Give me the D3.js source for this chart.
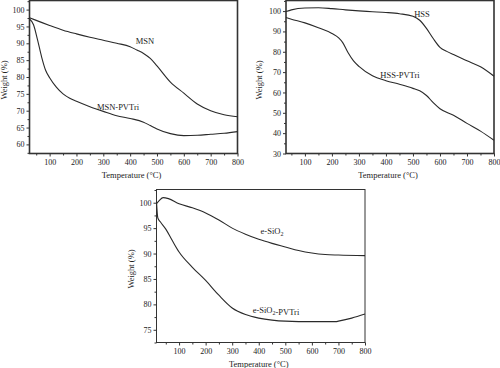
<!DOCTYPE html>
<html>
<head>
<meta charset="utf-8">
<script src="https://cdn.jsdelivr.net/npm/d3@7"></script>
<style>
  body { margin: 0; background: #fff; }
  svg { display: block; }
  text { font-family: "Liberation Serif", "DejaVu Serif", serif; fill: #222; }
  .axis path, .axis line { stroke: #333; }
</style>
</head>
<body>
<svg id="chart" width="500" height="368"></svg>
<script>
// temperatures (°C) and weights (%)
var msnT   = [25, 50, 100, 150, 200, 250, 300, 350, 400, 425, 450, 475, 500, 550, 600, 650, 700, 750, 800];
var msnW   = [97.6, 96.8, 95.3, 93.9, 92.8, 91.8, 90.9, 90.0, 89.0, 88.0, 87.0, 85.5, 83.3, 78.5, 75.2, 72.0, 70.0, 68.8, 68.2];
var msnPT  = [25, 40, 55, 70, 85, 100, 125, 150, 175, 200, 250, 300, 350, 400, 450, 475, 500, 550, 600, 650, 700, 750, 800];
var msnPW  = [97.2, 95.5, 91, 86, 82, 79.8, 77, 75, 73.7, 72.8, 71.2, 69.8, 68.5, 67.7, 66.6, 65.6, 64.6, 63.2, 62.6, 62.7, 63.0, 63.3, 63.8];

var hssT   = [30, 50, 100, 150, 200, 250, 300, 350, 400, 450, 500, 525, 550, 575, 600, 625, 650, 700, 750, 800];
var hssW   = [99.8, 100.6, 101.5, 101.6, 101.2, 100.6, 100.1, 99.7, 99.3, 98.7, 97.5, 95.5, 91.5, 86.5, 82.2, 80.2, 78.6, 75.6, 72.6, 68.0];
var hssPT  = [30, 50, 100, 150, 200, 225, 240, 260, 280, 300, 350, 400, 450, 500, 525, 550, 575, 600, 650, 700, 750, 800];
var hssPW  = [96.8, 96.0, 94.2, 91.8, 89.0, 86.8, 84.5, 79.5, 75.5, 72.8, 68.2, 65.8, 64.0, 62.0, 60.8, 58.5, 55.0, 52.0, 48.8, 44.8, 41.0, 36.5];

var sioT   = [15, 25, 40, 60, 100, 150, 200, 250, 300, 350, 400, 450, 500, 550, 600, 650, 700, 800];
var sioW   = [99.8, 100.4, 101.0, 100.8, 99.8, 99.0, 98.0, 96.6, 95.0, 93.8, 92.8, 92.0, 91.3, 90.6, 90.1, 89.8, 89.7, 89.6];
var sioPT  = [15, 20, 30, 50, 75, 100, 150, 200, 250, 300, 350, 400, 450, 500, 600, 690, 700, 750, 800];
var sioPW  = [100.2, 97.0, 96.2, 94.8, 92.5, 90.3, 87.3, 84.7, 81.8, 79.3, 78.0, 77.3, 76.9, 76.7, 76.6, 76.6, 76.7, 77.3, 78.1];

var xTicks = [100, 200, 300, 400, 500, 600, 700, 800];

function zip(t, w) { return t.map(function(d, i) { return [d, w[i]]; }); }

var svg = d3.select("#chart");

function panel(opt) {
  var g = svg.append("g");
  var x = d3.scaleLinear().domain(opt.xDom).range([opt.left, opt.right]);
  var y = d3.scaleLinear().domain(opt.yDom).range([opt.bottom, opt.top]);

  var minorX = d3.range(50, 801, 50).filter(function(v) { return v >= opt.xDom[0] && v % 100 !== 0; });
  var minorY = d3.range(opt.yMajor[0] - opt.yStep / 2, opt.yDom[1], opt.yStep)
    .filter(function(v) { return v >= opt.yDom[0] && v <= opt.yDom[1]; });

  // box
  g.append("rect")
    .attr("x", opt.left).attr("y", opt.top)
    .attr("width", opt.right - opt.left).attr("height", opt.bottom - opt.top)
    .attr("fill", "none").attr("stroke", "#333").attr("stroke-width", opt.top < 1 ? 1.6 : 1);

  g.append("g").attr("class", "axis")
    .attr("transform", "translate(0," + opt.bottom + ")")
    .call(d3.axisBottom(x).tickValues(xTicks).tickSize(3).tickPadding(3))
    .call(function(a) { a.select(".domain").remove(); });
  g.append("g").attr("class", "axis")
    .attr("transform", "translate(0," + opt.bottom + ")")
    .call(d3.axisBottom(x).tickValues(minorX).tickSize(2).tickFormat(""))
    .call(function(a) { a.select(".domain").remove(); });

  g.append("g").attr("class", "axis")
    .attr("transform", "translate(" + opt.left + ",0)")
    .call(d3.axisLeft(y).tickValues(opt.yMajor).tickSize(3).tickPadding(2))
    .call(function(a) { a.select(".domain").remove(); });
  g.append("g").attr("class", "axis")
    .attr("transform", "translate(" + opt.left + ",0)")
    .call(d3.axisLeft(y).tickValues(minorY).tickSize(2).tickFormat(""))
    .call(function(a) { a.select(".domain").remove(); });

  g.selectAll(".axis text").style("font-size", "8px").attr("fill", "#222");

  var line = d3.line()
    .x(function(d) { return x(d[0]); })
    .y(function(d) { return y(d[1]); })
    .curve(d3.curveMonotoneX);

  opt.series.forEach(function(s) {
    g.append("path").datum(s)
      .attr("d", line)
      .attr("fill", "none")
      .attr("stroke", "#2a2a2a")
      .attr("stroke-width", 1.1);
  });

  g.append("text")
    .attr("x", (opt.left + opt.right) / 2 - 2)
    .attr("y", opt.bottom + 24)
    .attr("text-anchor", "middle")
    .style("font-size", "8.5px")
    .text("Temperature (°C)");

  g.append("text")
    .attr("transform", "translate(" + (opt.left - opt.yLabOff) + "," + ((opt.top + opt.bottom) / 2 + 3) + ") rotate(-90)")
    .attr("text-anchor", "middle")
    .style("font-size", "8.5px")
    .text("Weight (%)");

  return { g: g, x: x, y: y };
}

var p1 = panel({
  left: 29.5, right: 237.5, top: 0.5, bottom: 153.5,
  xDom: [25, 800], yDom: [57.3, 102.7],
  yMajor: [60, 65, 70, 75, 80, 85, 90, 95, 100], yStep: 5,
  yLabOff: 23,
  series: [zip(msnT, msnW), zip(msnPT, msnPW)]
});
var p2 = panel({
  left: 286, right: 494, top: 0.5, bottom: 153.5,
  xDom: [30, 800], yDom: [30, 105.2],
  yMajor: [30, 40, 50, 60, 70, 80, 90, 100], yStep: 10,
  yLabOff: 24,
  series: [zip(hssT, hssW), zip(hssPT, hssPW)]
});
var p3 = panel({
  left: 156.5, right: 365, top: 189.5, bottom: 342.5,
  xDom: [15, 800], yDom: [72.5, 102.6],
  yMajor: [75, 80, 85, 90, 95, 100], yStep: 5,
  yLabOff: 23,
  series: [zip(sioT, sioW), zip(sioPT, sioPW)]
});

function note(g, x, y, parts) {
  var t = g.append("text").attr("x", x).attr("y", y)
    .attr("text-anchor", "middle").style("font-size", "8.5px");
  parts.forEach(function(p) {
    if (p.sub) {
      t.append("tspan").attr("dy", 2).style("font-size", "6px").text(p.s);
      t.append("tspan").attr("dy", -2).text("");
    } else {
      t.append("tspan").text(p.s);
    }
  });
}

note(p1.g, 145, 44, [{ s: "MSN" }]);
note(p1.g, 118, 110, [{ s: "MSN-PVTri" }]);
note(p2.g, 422, 17, [{ s: "HSS" }]);
note(p2.g, 400, 78, [{ s: "HSS-PVTri" }]);
note(p3.g, 272, 234, [{ s: "e-SiO" }, { s: "2", sub: true }]);
note(p3.g, 276, 313, [{ s: "e-SiO" }, { s: "2", sub: true }, { s: "-PVTri" }]);
</script>
</body>
</html>
